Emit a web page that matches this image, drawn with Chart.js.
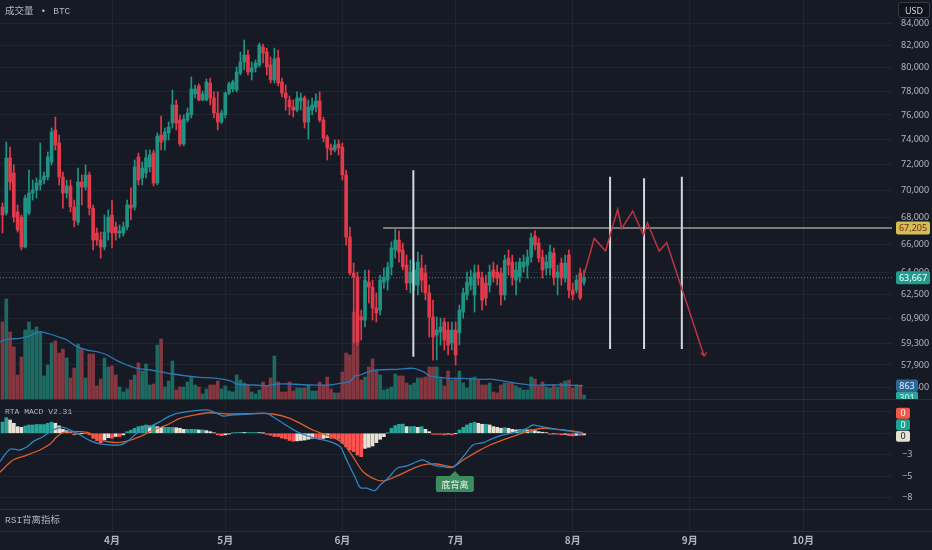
<!DOCTYPE html>
<html><head><meta charset="utf-8">
<script src="https://cdn.jsdelivr.net/npm/chart.js@4.4.1/dist/chart.umd.min.js"></script>
<style>
html,body{margin:0;padding:0;background:#161a25;overflow:hidden}
#wrap{position:relative;width:932px;height:550px;background:#161a25;overflow:hidden}
#wrap canvas{position:absolute;left:0}
.t{position:absolute;color:#b2b5be;white-space:nowrap;line-height:1}
.sep{position:absolute;left:0;width:932px;height:1px;background:#2a2e39}
</style></head><body>
<div id="wrap">
<canvas id="cMain" width="932" height="400" style="top:0px"></canvas>
<canvas id="cMacd" width="932" height="109" style="top:400px"></canvas>
<canvas id="cBot" width="932" height="41" style="top:509px"></canvas>
<div class="sep" style="top:399px"></div>
<div class="sep" style="top:509px"></div>
<div class="sep" style="top:531px"></div>
<div class="t" style="left:5px;top:7px;font-size:9.5px;font-family:'Liberation Mono','Noto Sans CJK SC',monospace">成交量<span style="margin:0 7px">•</span>BTC</div>
<div class="t" style="left:5px;top:408px;font-size:8px;font-family:'Liberation Mono',monospace">RTA MACD V2.31</div>
<div class="t" style="left:5px;top:516px;font-size:9.5px;font-family:'Liberation Mono','Noto Sans CJK SC',monospace">RSI背离指标</div>
<div class="t" style="left:898px;top:2px;width:30px;height:14px;border:1px solid #363a45;border-radius:3px;background:#10131b;color:#d1d4dc;font-size:9px;font-family:'Noto Sans',sans-serif;display:flex;align-items:center;justify-content:center">USD</div>
</div>
<script>
// ---------- data (daily candles, day index counted from 1 March) ----------
const firstDay = 2;
const open = [
 68760,68310,72530,71350,68390,68010,65830,68310,69810,70040,
 70430,70810,71040,72210,74770,73720,71040,69810,70350,68760,
 67640,70660,70270,71200,68680,66840,66330,65830,66910,68160,
 67280,66840,66840,67280,68910,68760,72610,70970,71350,71820,
 72920,70580,74360,73960,74530,75340,76830,75580,73640,75580,
 76000,77760,78440,77250,77250,78690,77420,76160,75420,76000,
 77840,78180,78100,79550,80510,81130,79640,79990,80250,81830,
 81390,80250,78950,80870,78780,77840,77250,76660,76410,77170,
 77420,75420,76410,76660,77170,75580,74200,73320,73160,73640,
 73400,71200,66550,63990,63710,61000,60800,63360,63020,61600,
 61470,63360,63500,64410,65620,66330,65620,64550,63300,63150,
 63150,64340,63990,62620,61000,59820,60010,60670,60140,59300,
 60140,59950,61330,62480,63150,62480,64060,63640,63300,63150,
 64200,64060,63990,62480,65040,64760,63500,63710,64410,64550,
 65110,66620,66120,65110,64340,64340,65400,63710,64690,63640,
 65260,62820,62820,63990,63360];
const high = [
 69060,73800,73400,71980,68910,68160,69660,71580,70810,70970,
 73720,71430,73000,74930,75830,74360,71430,70810,70810,69280,
 71740,71200,71980,71430,68910,67200,66910,68160,68530,69280,
 67640,67430,67640,69280,70200,72370,72920,72210,73160,73160,
 73160,74530,75910,74930,75420,78100,77250,76000,76000,76580,
 79210,78520,78610,78010,79040,79120,77930,77930,76410,77930,
 78780,78950,80080,81390,82460,81570,80510,80690,82190,82100,
 81740,80950,81740,81570,79120,78520,77590,77250,77930,77840,
 77590,77250,77400,77760,77930,75830,74360,73640,73960,73960,
 73720,71580,67280,64690,64060,61470,64200,64200,63500,62620,
 63850,64340,64760,66190,67130,66990,66120,65260,64900,64760,
 65470,65260,64550,63160,62140,61000,60930,60930,60670,60670,
 60670,61800,62950,64060,64200,64550,64550,64060,63850,64550,
 64760,64550,64340,65260,65620,65260,64760,65040,65260,65620,
 66840,66990,66480,65620,65260,65970,65760,64550,65040,65260,
 65620,63300,63850,64340,64200];
const low = [
 66840,68160,70040,67640,66910,65620,65760,68160,69280,69430,
 70040,70500,70810,71980,73160,70430,68680,69430,68390,67280,
 67430,68910,70040,68160,65620,65970,65040,65620,66330,65760,
 66330,66480,66620,67060,67790,68530,70430,70430,70970,71430,
 70350,70430,73160,73160,73960,74930,74770,73480,73480,75420,
 75750,77420,77170,77170,77170,76830,75750,74770,75300,75750,
 77700,77930,77930,79380,79810,79380,78950,79640,80080,80430,
 79380,78690,78690,78440,77500,76410,76000,75830,76250,76410,
 74930,74040,76000,76250,75420,73800,72370,72760,73000,72760,
 70810,65970,63850,59300,59170,59490,60340,61940,60800,60670,
 61130,62950,62820,63850,65040,64760,64200,62820,62620,62820,
 62480,62680,62140,59690,58210,58210,59170,58850,58530,58850,
 57900,59170,60930,62140,62820,61330,63150,61470,61800,62680,
 63360,63150,61800,62140,63850,63150,62480,63360,64060,63640,
 64760,65620,64760,63640,63850,63850,63150,62480,63150,63360,
 62280,62140,62620,62140,63150];
const close = [
 68160,72530,70660,68010,67060,65830,69430,69810,70040,70580,
 70810,71120,72610,74610,73560,71040,69810,70350,68760,67790,
 70660,70270,71200,68680,66330,66330,65830,66910,68010,66840,
 66840,66990,67280,68910,68680,71820,70810,71740,72530,72760,
 70580,74280,73800,74610,75010,76830,75340,73640,75660,76160,
 78180,78180,77250,77760,78780,77420,76160,75420,76160,77840,
 78610,78780,79640,80510,81130,79640,79990,80430,82010,81300,
 80080,78950,80780,78690,77840,77420,76660,76410,77420,77420,
 75420,76660,76830,77170,75580,74120,73320,73160,73560,73320,
 71200,66550,63990,63710,59360,60800,63500,63020,61600,61270,
 63500,63710,64410,65760,66330,65470,64410,63300,64060,64200,
 64760,63500,62620,61000,59690,60140,60340,59490,59170,60140,
 58530,61470,62620,63360,63710,63990,63640,62140,62280,64060,
 63710,63640,62480,64900,64550,63710,64200,64760,64760,65110,
 66480,65970,65040,64200,64760,65470,63710,64060,63640,64690,
 62820,62480,63500,62280,63667];
const volume = [
 4680,6060,4080,3180,1500,2580,4200,4680,4200,4380,
 4080,1440,2100,3420,3540,2820,3060,2520,1320,1920,
 3360,3060,1320,2760,2760,840,1260,2520,1980,2040,
 1500,780,480,660,1200,1500,2220,1740,2160,900,
 960,3300,3660,780,1140,2340,600,780,780,1080,
 1380,900,780,360,660,900,900,1140,660,840,
 540,480,1500,1200,1020,900,480,360,600,1080,
 840,1320,2640,1080,480,480,1080,540,720,720,
 720,900,540,540,1080,900,1380,660,420,420,
 1680,2820,2700,5280,5100,1200,1380,1980,2460,1800,
 1500,600,660,780,1560,1440,1440,1020,900,1020,
 1320,1320,1380,1980,1980,1980,1320,840,1740,1200,
 1320,1740,1020,720,1320,1380,1200,900,900,1020,
 480,420,900,1020,1020,1020,840,720,600,600,
 1380,1260,840,1080,780,720,900,780,1020,1140,
 1200,720,900,900,301];
const volMaDays = [1.3,3.2,6.6,8.5,10.1,11.9,13.8,15.4,17.2,19.1,21.7,24.4,27.0,29.7,32.3,35.0,37.6,41.1,43.7,47.1,50.9,54.3,58.8,62.2,64.1,68.3,72.0,74.7,78.1,83.4,88.7,91.4,94.0,95.3,96.7,98.5,101.2,106.5,110.7,113.4,115.2,117.9,120.5,124.0,128.5,131.9,135.6,138.3,141.7,145.1,150.4,155.7];
const volMaVals = [3500,3640,3700,3800,3940,4100,4000,3900,3760,3600,3200,3000,2900,2700,2360,2100,1900,1800,1700,1560,1440,1360,1300,1160,960,900,860,960,960,900,900,1000,1100,1440,1500,1660,1800,1840,1900,1700,1440,1360,1300,1300,1240,1240,1100,1000,900,900,900,863];
const hist = [
 1.4,1.96,1.67,1.26,0.83,0.75,0.92,1.04,1.04,1.1,
 1.1,1.1,1.26,1.4,1.26,0.92,0.5,0.33,0.08,-0.2,
 -0.08,-0.02,-0.02,-0.2,-0.63,-0.92,-1.18,-0.84,-0.55,-0.63,
 -0.4,-0.4,-0.2,0.2,0.4,0.63,0.83,0.92,1.04,0.92,
 1.04,0.83,0.75,0.75,0.75,0.75,0.7,0.63,0.5,0.5,
 0.5,0.5,0.42,0.42,0.33,0.2,0.05,-0.2,-0.3,-0.2,
 -0.1,0.02,0.1,0.12,0.1,0.1,0.1,0.1,0.08,0.02,
 -0.15,-0.25,-0.4,-0.4,-0.6,-0.7,-0.9,-1.0,-0.95,-0.9,
 -0.85,-0.75,-0.63,-0.63,-0.75,-0.65,-0.55,-0.63,-0.63,-0.75,
 -1.26,-1.7,-2.1,-2.3,-2.73,-2.94,-1.9,-1.76,-1.6,-1.17,
 -0.75,-0.42,0.02,0.63,0.96,1.13,1.15,0.83,0.83,0.85,
 0.75,0.83,0.5,0.2,-0.13,-0.13,-0.13,-0.2,-0.1,-0.2,
 -0.02,0.42,0.75,1.05,1.25,1.38,1.25,1.13,1.13,1.05,
 0.83,0.75,0.63,0.7,0.63,0.5,0.42,0.5,0.5,0.42,
 0.5,0.33,0.2,0.13,0.08,-0.13,-0.08,-0.13,-0.2,-0.13,
 -0.3,-0.33,-0.25,-0.25,-0.2];
const macdDays = [1.3,4.0,6.6,8.5,10.1,12.7,15.4,18.0,21.7,25.2,27.8,30.5,33.1,35.0,37.6,41.1,43.7,45.6,48.2,52.4,56.2,58.8,60.4,63.0,67.5,72.0,73.6,76.3,80.0,83.4,86.1,88.7,91.4,92.7,94.0,95.3,96.7,98.5,100.6,102.0,104.1,106.5,109.1,110.7,113.1,114.4,116.0,118.7,121.3,124.0,126.6,129.3,131.9,134.5,138.3,140.9,142.5,143.8,147.0,150.4,153.1,155.7];
const macdVals = [-3.57,-2.0,-2.1,-1.7,-1.05,-0.43,0.41,0.75,0,-0.93,-1.34,-1.47,-1.47,-1.05,0,0.83,1.46,2.0,2.5,2.8,2.93,2.5,2.17,2.3,2.42,2.5,2.08,1.26,0.2,-0.43,-0.75,-1.05,-1.68,-2.9,-4.2,-5.45,-6.8,-6.9,-7.2,-6.5,-5.65,-4.4,-4.1,-3.77,-3.35,-3.57,-3.98,-4.2,-4.27,-2.94,-1.47,-1.18,-0.63,-0.21,0.2,0.63,1.04,0.92,0.63,0.41,0.2,0];
const signalDays = [1.3,4.8,8.5,11.9,14.6,16.4,18.0,22.5,25.2,27.8,32.3,35.0,38.4,41.9,45.6,49.0,54.3,57.0,62.2,70.2,73.6,78.1,81.6,84.2,86.9,90.1,92.2,94.8,97.5,101.2,103.3,106.5,109.9,113.4,117.1,121.3,124.0,127.7,131.1,134.5,138.3,141.7,145.1,148.8,152.3,155.7];
const signalVals = [-4.9,-3.35,-2.73,-2.1,-1.35,-0.43,0.08,0.2,0,-0.84,-1.18,-1.0,-0.43,0.41,1.05,1.88,2.42,2.58,2.42,2.5,2.42,1.88,1.05,0.41,-0.08,-0.63,-1.26,-2.94,-4.82,-5.87,-5.95,-5.36,-4.6,-3.98,-3.86,-4.2,-3.35,-2.3,-1.47,-0.84,-0.21,0.33,0.63,0.5,0.33,0.08];
// drawings
const levelPrice = 67205, levelFromDay = 102.8;
const vlineDays = [110.8, 162.9, 171.9, 181.9];
const vlineTop = [71570, 71060, 70940, 71060];
const vlineBottom = [58420, 58910, 58910, 58910];
const projDays = [155.8,158.7,161.7,164.9,166.0,168.9,171.7,172.8,175.9,177.9,187.8];
const projVals = [63667,66450,65540,68590,67180,68460,66700,67590,65540,66140,58470];
const arrowDays = [186.9,187.8,188.5];
const arrowVals = [58680,58470,58700];
const divergence = {day:121.8, value:-4.74, text:'底背离'};
// axes
const monthTicks = [31,61,92,122,153,184,214];
const monthLabels = ['4月','5月','6月','7月','8月','9月','10月'];
const priceTicks = [84000,82000,80000,78000,76000,74000,72000,70000,68000,66000,64000,62500,60900,59300,57900,56500];
const macdTicks = [2.7,0,-2.7,-5.4,-8.1];
const XMIN = 1.337, XMAX = 237.56;
const PMIN = 55734, PMAX = 86129;
const VMAX = 24000;
const MMIN = -9.51, MMAX = 4.18;

// ---------- style ----------
const GRID = '#21252f', TXT = '#b2b5be';
const UP = '#1f9484', DN = '#e23a4a';
const VUP = '#1d6a62', VDN = '#843740';
const H_UP = '#26a69a', H_DN = '#ff5252', H_FADE = '#e6e1d3';
const TICKFONT = {family:'Noto Sans', size:9};

const days = open.map((_, i) => firstDay + i);
const isUp = i => close[i] >= open[i];
const candleColors = days.map((d, i) => isUp(i) ? UP : DN);
const pts = (xs, ys) => xs.map((x, i) => ({x, y: ys[i]}));

function xScale(extra) {
  return Object.assign({
    type:'linear', min:XMIN, max:XMAX, offset:false,
    grid:{color:GRID, drawTicks:false, lineWidth:1, offset:false},
    border:{display:false},
    ticks:{display:false, autoSkip:false, maxRotation:0},
    afterBuildTicks: s => { s.ticks = monthTicks.map(v => ({value:v})); },
    afterFit: s => { s.height = 0; s.paddingLeft = 0; s.paddingRight = 0; }
  }, extra || {});
}
function rightAxis(extra) {
  return Object.assign({
    position:'right',
    grid:{color:GRID, drawTicks:false},
    border:{display:false},
    afterFit: s => { s.width = 40; s.paddingTop = 0; s.paddingBottom = 0; }
  }, extra);
}
function tag(ctx, x, yc, w, h, bg, fg, text, font) {
  ctx.save();
  ctx.fillStyle = bg;
  ctx.beginPath();
  if (ctx.roundRect) ctx.roundRect(x, yc - h / 2, w, h, 2); else ctx.rect(x, yc - h / 2, w, h);
  ctx.fill();
  ctx.fillStyle = fg; ctx.font = font || '9px "Noto Sans"';
  ctx.textAlign = 'center'; ctx.textBaseline = 'middle';
  ctx.fillText(text, x + w / 2, yc + 0.5);
  ctx.restore();
}
const common = {
  responsive:false, animation:false, events:[],
  layout:{padding:0},
  plugins:{legend:{display:false}, tooltip:{enabled:false}}
};

// ---------- main price pane ----------
const vlineSets = vlineDays.map((d, i) => ({
  type:'line', data:[{x:d, y:vlineTop[i]}, {x:d, y:vlineBottom[i]}], yAxisID:'y',
  borderColor:'#d3d6dd', borderWidth:2, pointRadius:0, order:3
}));
const lastPrice = close[close.length - 1];
const lastVol = volume[volume.length - 1];
const lastVolMa = volMaVals[volMaVals.length - 1];

new Chart(document.getElementById('cMain'), {
  type:'bar',
  data:{datasets:[
    {type:'bar', data:pts(days, volume), yAxisID:'yv', backgroundColor:days.map((d,i)=>isUp(i)?VUP:VDN), barThickness:3, grouped:false, order:20},
    {type:'line', data:pts(volMaDays, volMaVals), yAxisID:'yv', borderColor:'#2a78b6', borderWidth:1.3, pointRadius:0, tension:0.3, order:19},
    {type:'line', data:[{x:XMIN,y:lastPrice},{x:XMAX,y:lastPrice}], yAxisID:'y', borderColor:'#1f978b', borderWidth:1, borderDash:[1,2], pointRadius:0, order:16},
    {type:'line', data:[{x:levelFromDay,y:levelPrice},{x:XMAX,y:levelPrice}], yAxisID:'y', borderColor:'#dedcc4', borderWidth:1, pointRadius:0, order:15},
    {type:'bar', data:days.map((d,i)=>({x:d, y:[low[i], high[i]]})), yAxisID:'y', backgroundColor:candleColors, barThickness:1, grouped:false, order:10},
    {type:'bar', data:days.map((d,i)=>({x:d, y:[open[i], close[i]]})), yAxisID:'y', backgroundColor:candleColors, barThickness:3, minBarLength:1, grouped:false, order:9},
    ...vlineSets,
    {type:'line', data:pts(projDays, projVals), yAxisID:'y', borderColor:'#bf3340', borderWidth:1.5, pointRadius:0, tension:0, order:2},
    {type:'line', data:pts(arrowDays, arrowVals), yAxisID:'y', borderColor:'#bf3340', borderWidth:1.5, pointRadius:0, tension:0, order:2}
  ]},
  options:Object.assign({}, common, {
    scales:{
      x:xScale(),
      y:rightAxis({type:'logarithmic', min:PMIN, max:PMAX,
        ticks:{color:TXT, font:TICKFONT, padding:9, autoSkip:false, callback:v => Number(v).toLocaleString('en-US')},
        afterBuildTicks: s => { s.ticks = priceTicks.map(v => ({value:v})); }}),
      yv:{type:'linear', display:false, min:0, max:VMAX}
    }
  }),
  plugins:[{id:'mainTags', afterDraw(chart){
    const ctx = chart.ctx, y = chart.scales.y, yv = chart.scales.yv;
    const f = '9px "Noto Sans"';
    tag(ctx, 896, y.getPixelForValue(levelPrice), 34, 13, '#d1bf55', '#7a2316', levelPrice.toLocaleString('en-US'), f);
    tag(ctx, 896, y.getPixelForValue(lastPrice), 34, 13, '#1f9c8f', '#ffffff', Math.round(lastPrice).toLocaleString('en-US'), f);
    const ym = yv.getPixelForValue(lastVolMa);
    tag(ctx, 896, ym, 22, 12, '#2b679c', '#e6e9f0', String(lastVolMa), f);
    tag(ctx, 896, ym + 12, 22, 12, '#26a69a', '#e6e9f0', String(lastVol), f);
  }}]
});

// ---------- MACD pane ----------
new Chart(document.getElementById('cMacd'), {
  type:'bar',
  data:{datasets:[
    {type:'bar', data:pts(days, hist), backgroundColor:hist.map((v,i)=>{const p = i>0?hist[i-1]:v; if (v>=0) return v>=p?H_UP:H_FADE; return v<=p?H_DN:H_FADE;}), barThickness:3, grouped:false, order:5},
    {type:'line', data:pts(signalDays, signalVals), borderColor:'#dc5d2c', borderWidth:1.3, pointRadius:0, tension:0.3, order:3},
    {type:'line', data:pts(macdDays, macdVals), borderColor:'#2d86c4', borderWidth:1.3, pointRadius:0, tension:0.3, order:2}
  ]},
  options:Object.assign({}, common, {
    scales:{
      x:xScale(),
      y:rightAxis({type:'linear', min:MMIN, max:MMAX,
        ticks:{color:TXT, font:TICKFONT, padding:10, autoSkip:false, callback:v => v < 0 ? '\u2212' + Math.round(-v) : ''},
        afterBuildTicks: s => { s.ticks = macdTicks.map(v => ({value:v})); }})
    }
  }),
  plugins:[{id:'macdTags', afterDraw(chart){
    const ctx = chart.ctx, y = chart.scales.y, x = chart.scales.x;
    const f = '9px "Noto Sans"';
    const z = y.getPixelForValue(0);
    const r = v => String(Math.abs(Math.round(v)));
    tag(ctx, 896, z + 3, 14, 11, H_FADE, '#222', r(signalVals[signalVals.length-1]), f);
    tag(ctx, 896, z - 8.5, 14, 11, '#1ea292', '#fff', r(macdVals[macdVals.length-1]), f);
    tag(ctx, 896, z - 20, 14, 11, '#f25a47', '#fff', r(hist[hist.length-1]), f);
    const px = x.getPixelForValue(divergence.day), py = y.getPixelForValue(divergence.value);
    ctx.save();
    ctx.fillStyle = '#3b8c5e';
    ctx.beginPath(); ctx.moveTo(px, py); ctx.lineTo(px - 5, py + 5); ctx.lineTo(px + 5, py + 5); ctx.closePath(); ctx.fill();
    ctx.beginPath();
    if (ctx.roundRect) ctx.roundRect(px - 19, py + 5, 38, 16, 2); else ctx.rect(px - 19, py + 5, 38, 16);
    ctx.fill();
    ctx.fillStyle = '#f0f3f0'; ctx.font = '9px "Noto Sans CJK SC"'; ctx.textAlign = 'center'; ctx.textBaseline = 'middle';
    ctx.fillText(divergence.text, px, py + 13.5);
    ctx.restore();
  }}]
});

// ---------- RSI pane + time axis ----------
new Chart(document.getElementById('cBot'), {
  type:'bar',
  data:{datasets:[]},
  options:Object.assign({}, common, {
    layout:{padding:{right:40}},
    scales:{
      x:xScale({
        ticks:{display:true, color:TXT, autoSkip:false, maxRotation:0, padding:3,
          font:{family:'Noto Sans CJK SC', size:10, weight:'bold'},
          callback:v => monthLabels[monthTicks.indexOf(v)] || ''},
        afterFit: s => { s.height = 19; s.paddingLeft = 0; s.paddingRight = 0; }
      }),
      y:{display:false, min:0, max:1}
    }
  })
});
</script>
</body></html>
